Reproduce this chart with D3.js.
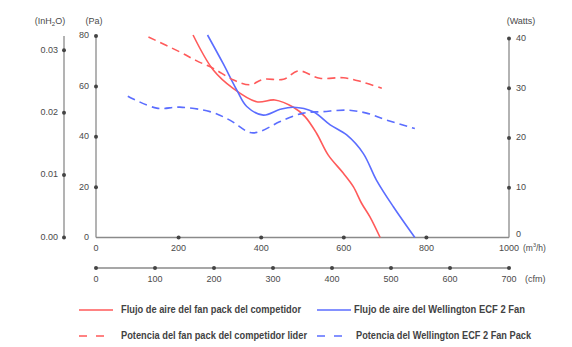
<!DOCTYPE html>
<html>
<head>
<meta charset="utf-8">
<script src="https://cdn.jsdelivr.net/npm/d3@7"></script>
<style>
  body { margin: 0; background: #fff; }
  text { font-family: "Liberation Sans", Arial, sans-serif; }
</style>
</head>
<body>
<div id="chart"></div>
<script>
// flow in m3/h, pressure in Pa, power in Watts
const competitorFlow = [
  [235, 80.4], [284, 66.5], [332, 59.2], [389, 53.9], [433, 54.6], [478, 51.7],
  [506, 48], [534, 41.4], [562, 32.8], [599, 25.5], [623, 20.2], [643, 13.6],
  [663, 8.3], [688, 0]
];
const wellingtonFlow = [
  [270, 80.4], [308, 69], [341, 58.5], [365, 52], [405, 48.6], [446, 50.9],
  [478, 51.7], [526, 49.9], [567, 44.7], [607, 40.7], [647, 33.4], [679, 22.8],
  [720, 12.2], [772, 0]
];
const competitorPower = [
  [127, 40.3], [203, 37.3], [244, 35.5], [284, 34], [332, 31.7], [373, 30.7],
  [405, 31.8], [454, 31.8], [490, 33.5], [542, 32], [599, 32.1], [643, 31.3], [692, 30]
];
const wellingtonPower = [
  [77, 28.4], [147, 26], [203, 26.2], [276, 25.3], [324, 23.6], [373, 21.1],
  [397, 21.3], [446, 23.3], [502, 25], [550, 25.3], [607, 25.6], [655, 25],
  [704, 23.6], [772, 21.9]
];

const paTicks = [0, 20, 40, 60, 80];
const inh2oTicks = [0, 0.01, 0.02, 0.03];
const wattTicks = [0, 10, 20, 30, 40];
const m3hTicks = [0, 200, 400, 600, 800, 1000];
const cfmTicks = [0, 100, 200, 300, 400, 500, 600, 700];

const legendItems = [
  { label: 'Flujo de aire del fan pack del competidor', color: '#ff5a5a', dash: null },
  { label: 'Flujo de aire del Wellington ECF 2 Fan', color: '#5b6dff', dash: null },
  { label: 'Potencia del fan pack del competidor lider', color: '#ff5a5a', dash: '8,9' },
  { label: 'Potencia del Wellington ECF 2 Fan Pack', color: '#5b6dff', dash: '8,9' }
];

const width = 572, height = 347;
const plotLeft = 96, plotRight = 509, plotTop = 36, plotBottom = 237.5;

const svg = d3.select('#chart').append('svg')
  .attr('width', width)
  .attr('height', height);

const x = d3.scaleLinear().domain([0, 1000]).range([plotLeft, plotRight]);
const xCfm = d3.scaleLinear().domain([0, 700]).range([plotLeft, plotRight]);
const yPa = d3.scaleLinear().domain([0, 80]).range([plotBottom, plotTop]);
const yIn = d3.scaleLinear().domain([0, 0.0323]).range([plotBottom, plotTop]);
const yW = d3.scaleLinear().domain([0, 40]).range([plotBottom, plotTop + 2.5]);

const axisColor = '#8a8a8a';
const dotColor = '#444';
const labelColor = '#4a4a4a';
const fontSize = 9;

function line(x1, y1, x2, y2) {
  svg.append('line')
    .attr('x1', x1).attr('y1', y1).attr('x2', x2).attr('y2', y2)
    .attr('stroke', axisColor).attr('stroke-width', 1.3);
}
function dots(pts) {
  svg.append('g').selectAll('circle').data(pts).enter()
    .append('circle')
    .attr('cx', d => d[0]).attr('cy', d => d[1])
    .attr('r', 2).attr('fill', dotColor);
}
function labels(items, anchor) {
  svg.append('g').selectAll('text').data(items).enter()
    .append('text')
    .attr('x', d => d.x).attr('y', d => d.y)
    .attr('text-anchor', anchor)
    .attr('dominant-baseline', 'middle')
    .attr('fill', labelColor)
    .style('font-size', fontSize + 'px')
    .text(d => d.t);
}

// Pa axis + x axis
line(plotLeft, plotTop, plotLeft, plotBottom);
line(plotLeft, plotBottom, plotRight, plotBottom);
dots(paTicks.filter(d => d > 0).map(d => [plotLeft, yPa(d)]));
labels(paTicks.map(d => ({ x: plotLeft - 7, y: yPa(d), t: d })), 'end');
dots(m3hTicks.filter(d => d > 0 && d < 1000).map(d => [x(d), plotBottom]));
labels(m3hTicks.map(d => ({ x: x(d), y: plotBottom + 11, t: d })), 'middle');

// inH2O axis
const inX = 64;
line(inX, yIn(0.0323), inX, yIn(0));
dots(inh2oTicks.map(d => [inX, yIn(d)]));
labels(inh2oTicks.map(d => ({ x: inX - 6, y: yIn(d), t: d.toFixed(2) })), 'end');

// Watts axis
line(plotRight, yW(40), plotRight, plotBottom);
dots(wattTicks.filter(d => d > 0).map(d => [plotRight, yW(d)]));
labels(wattTicks.map(d => ({ x: plotRight + 7, y: yW(d) - (d === 0 ? 3 : 0), t: d })), 'start');

// cfm axis
const cfmY = 268;
line(plotLeft, cfmY, plotRight, cfmY);
dots(cfmTicks.map(d => [xCfm(d), cfmY]));
labels(cfmTicks.map(d => ({ x: xCfm(d), y: cfmY + 12, t: d })), 'middle');

// axis titles
const t1 = svg.append('text').attr('x', 50).attr('y', 22).attr('text-anchor', 'middle')
  .attr('dominant-baseline', 'middle').attr('fill', labelColor).style('font-size', fontSize + 'px');
t1.append('tspan').text('(InH');
t1.append('tspan').text('2').attr('dy', 2).style('font-size', '6px');
t1.append('tspan').text('O)').attr('dy', -2);
labels([{ x: 94, y: 22, t: '(Pa)' }], 'middle');
labels([{ x: 521, y: 22, t: '(Watts)' }], 'middle');
const t2 = svg.append('text').attr('x', 523).attr('y', plotBottom + 11).attr('text-anchor', 'start')
  .attr('dominant-baseline', 'middle').attr('fill', labelColor).style('font-size', '8.5px');
t2.append('tspan').text('(m');
t2.append('tspan').text('3').attr('dy', -3).style('font-size', '5.5px');
t2.append('tspan').text('/h)').attr('dy', 3);
labels([{ x: 525, y: cfmY + 12, t: '(cfm)' }], 'start');

// curves
const curve = d3.line().curve(d3.curveCatmullRom.alpha(0.5));
const series = [
  { data: competitorFlow, y: yPa, color: '#ff5a5a', dash: null },
  { data: wellingtonFlow, y: yPa, color: '#5b6dff', dash: null },
  { data: competitorPower, y: yW, color: '#ff5a5a', dash: '8,5' },
  { data: wellingtonPower, y: yW, color: '#5b6dff', dash: '8,5' }
];
series.forEach(s => {
  svg.append('path')
    .attr('d', curve(s.data.map(d => [x(d[0]), s.y(d[1])])))
    .attr('fill', 'none')
    .attr('stroke', s.color)
    .attr('stroke-width', 1.6)
    .attr('stroke-dasharray', s.dash);
});

// legend
const legendPos = [[79, 310, 121, 180], [317, 310, 354, 171], [79, 336, 121, 186], [317, 336, 356, 175]];
legendItems.forEach((item, i) => {
  const [lx, ly, tx, tw] = legendPos[i];
  svg.append('line')
    .attr('x1', lx).attr('y1', ly).attr('x2', lx + (item.dash ? 26 : 34)).attr('y2', ly)
    .attr('stroke', item.color).attr('stroke-width', 1.6)
    .attr('stroke-dasharray', item.dash);
  svg.append('text')
    .attr('x', tx).attr('y', ly)
    .attr('dominant-baseline', 'middle')
    .attr('fill', '#222')
    .attr('textLength', tw)
    .attr('lengthAdjust', 'spacingAndGlyphs')
    .style('font-size', '11px')
    .style('font-weight', 'bold')
    .style('opacity', 0.85)
    .text(item.label);
});
</script>
</body>
</html>
